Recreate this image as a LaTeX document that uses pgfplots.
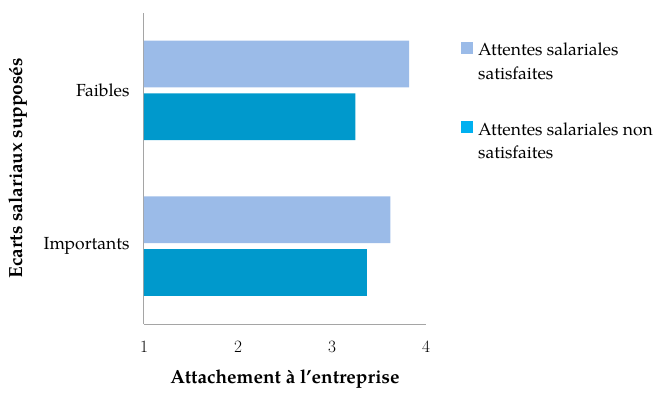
\documentclass[border=0pt]{standalone}
\usepackage{fontspec}
\setmainfont{TeX Gyre Pagella}
\usepackage{pgfplots}
\pgfplotsset{compat=1.18}
\definecolor{lightbar}{RGB}{155,187,232}
\definecolor{darkbar}{RGB}{0,153,204}
\definecolor{darkleg}{RGB}{0,176,240}
\definecolor{axgray}{RGB}{165,165,165}
\begin{document}
\begin{tikzpicture}[x=1pt,y=1pt]
\path[use as bounding box] (0,0) rectangle (654,392);
\begin{axis}[
  at={(144pt,68pt)}, anchor=south west,
  scale only axis, width=282pt, height=311.5pt,
  xbar, xmin=1, xmax=4, ymin=-0.5, ymax=1.5,
  xtick={1,2,3,4}, ytick={0,1}, yticklabels={Importants,Faibles},
  bar width=0.30,
  axis lines*=left,
  hide obscured x ticks=false,
  hide obscured y ticks=false,
  axis line style={axgray, line width=1pt},
  major tick length=0pt,
  tick style={draw=none},
  ticklabel style={font=\fontsize{17.5}{20}\selectfont},
  xticklabel style={yshift=-14pt},
  yticklabel style={xshift=-11pt},
  xlabel={Attachement à l’entreprise},
  ylabel={Ecarts salariaux supposés},
  xlabel style={at={(axis description cs:0.5,-0.1926)}, anchor=base, font=\bfseries\fontsize{19}{20}\selectfont},
  ylabel style={at={(axis description cs:-0.4326,0.5)}, anchor=base, rotate=0, font=\bfseries\fontsize{19}{20}\selectfont},
  legend style={draw=none, at={(axis description cs:1.124,0.905)}, anchor=north west, inner sep=0pt,
    font=\fontsize{17.5}{23.5}\selectfont, row sep=42pt, column sep=5pt,
    nodes={align=left, inner sep=0pt, text depth=0pt}},
  legend cell align=left,
]
\addplot[fill=lightbar, draw=none, bar shift=0.169,
  legend image code/.code={\fill[lightbar] (0pt,7pt) rectangle (12pt,19pt);}]
  coordinates {(3.62,0) (3.82,1)};
\addlegendentry{Attentes salariales\\satisfaites}
\addplot[fill=darkbar, draw=none, bar shift=-0.169,
  legend image code/.code={\fill[darkleg] (0pt,7pt) rectangle (12pt,19pt);}]
  coordinates {(3.37,0) (3.25,1)};
\addlegendentry{Attentes salariales non\\satisfaites}
\end{axis}
\end{tikzpicture}
\end{document}
